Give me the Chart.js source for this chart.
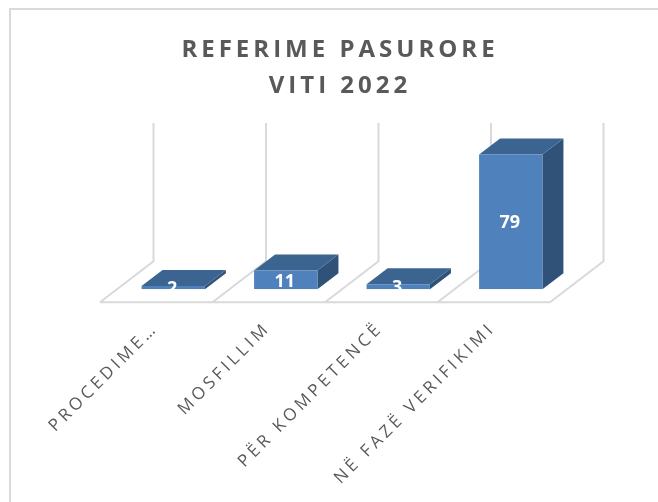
<!DOCTYPE html>
<html>
<head>
<meta charset="utf-8">
<style>html,body{margin:0;padding:0;background:#fff}#w{width:658px;height:502px;position:relative}</style>
<script src="https://cdn.jsdelivr.net/npm/chart.js@4"></script>
</head>
<body>
<div id="w"><canvas id="c" width="658" height="502"></canvas></div>
<script>
const categories = ["PROCEDIME…", "MOSFILLIM", "PËR KOMPETENCË", "NË FAZË VERIFIKIMI"];
const values = [2, 11, 3, 79];
const titleLines = ["REFERIME PASURORE", "VITI 2022"];
const axisMax = 81;

const FRONT = "#4f81bd", TOP = "#3c6490", SIDE = "#305278", GRID = "#d9d9d9", TEXT = "#595959";
const barDepth = {dx: 21, dy: -16};
const floorFront = {dx: -17, dy: 13};
const floorBack = {dx: 36.5, dy: -28};

function poly(ctx, pts, fill) {
  ctx.beginPath();
  pts.forEach((p, i) => i ? ctx.lineTo(p[0], p[1]) : ctx.moveTo(p[0], p[1]));
  ctx.closePath();
  ctx.fillStyle = fill;
  ctx.fill();
}

const scene = {
  id: "scene",
  beforeDraw(chart) {
    const ctx = chart.ctx;
    ctx.save();
    ctx.strokeStyle = GRID;
    ctx.lineWidth = 2;
    ctx.beginPath();
    ctx.moveTo(10, 502); ctx.lineTo(10, 9); ctx.lineTo(658, 9);
    ctx.stroke();
    ctx.restore();
    ctx.letterSpacing = "3.7px";
  },
  afterLayout(chart) {
    const tb = chart.titleBlock;
    if (tb && !tb._wrapped) {
      const d = tb.draw;
      tb.draw = function () {
        const c = chart.ctx, prev = c.letterSpacing;
        c.save();
        c.translate(-2, 0);
        c.letterSpacing = "4px";
        d.apply(this, arguments);
        c.restore();
        c.letterSpacing = prev;
      };
      tb._wrapped = true;
    }
  },
  beforeDatasetsDraw(chart) {
    const ctx = chart.ctx, xs = chart.scales.x, ys = chart.scales.y;
    const base = ys.getPixelForValue(0), top = ys.getPixelForValue(axisMax);
    const step = xs.getPixelForValue(1) - xs.getPixelForValue(0);
    const left = xs.getPixelForValue(0) - step / 2;
    ctx.save();
    ctx.strokeStyle = GRID;
    ctx.lineWidth = 2;
    ctx.beginPath();
    const fy = base + floorFront.dy, by = base + floorBack.dy;
    ctx.moveTo(left + floorFront.dx, fy);
    ctx.lineTo(left + floorFront.dx + step * categories.length, fy);
    for (let i = 0; i <= categories.length; i++) {
      const bx = left + step * i;
      ctx.moveTo(bx + floorFront.dx, fy);
      ctx.lineTo(bx + floorBack.dx, by);
      ctx.lineTo(bx + floorBack.dx, top + floorBack.dy);
    }
    ctx.stroke();
    ctx.restore();
    const meta = chart.getDatasetMeta(0);
    ctx.save();
    meta.data.forEach(el => {
      const p = el.getProps(["x", "y", "base", "width"], true);
      const l = p.x - p.width / 2, r = p.x + p.width / 2;
      const {dx, dy} = barDepth;
      poly(ctx, [[r, p.y], [r + dx, p.y + dy], [r + dx, p.base + dy], [r, p.base]], SIDE);
      poly(ctx, [[l, p.y], [l + dx, p.y + dy], [r + dx, p.y + dy], [r, p.y]], TOP);
    });
    ctx.restore();
  },
  afterDatasetsDraw(chart) {
    const ctx = chart.ctx;
    const meta = chart.getDatasetMeta(0);
    ctx.save();
    ctx.letterSpacing = "0px";
    ctx.fillStyle = "#ffffff";
    ctx.font = "700 18px 'Open Sans'";
    ctx.textAlign = "center";
    ctx.textBaseline = "middle";
    meta.data.forEach((el, i) => {
      const p = el.getProps(["x", "y", "base"], true);
      ctx.fillText(String(values[i]), p.x - 1, (p.y + p.base) / 2 + 1.5);
    });
    ctx.restore();
  }
};

new Chart(document.getElementById("c"), {
  type: "bar",
  data: {
    labels: categories,
    datasets: [{data: values, backgroundColor: FRONT, barPercentage: 0.563, categoryPercentage: 1}]
  },
  options: {
    responsive: false,
    animation: false,
    layout: {padding: {left: 117, right: 91, top: 32, bottom: 0}},
    plugins: {
      legend: {display: false},
      tooltip: {enabled: false},
      title: {
        display: true,
        text: titleLines,
        color: TEXT,
        font: {family: "'Open Sans'", size: 24, weight: "700", lineHeight: 1.5},
        padding: {top: 0, bottom: 47}
      }
    },
    scales: {
      x: {
        afterFit(s) { s.height = 212.7; },
        border: {display: false},
        grid: {display: false, drawTicks: false},
        ticks: {
          autoSkip: false,
          maxRotation: 45,
          minRotation: 45,
          color: TEXT,
          padding: 29,
          labelOffset: -18,
          font: {family: "'Open Sans'", size: 17}
        }
      },
      y: {display: false, min: 0, max: axisMax}
    }
  },
  plugins: [scene]
});
</script>
</body>
</html>
